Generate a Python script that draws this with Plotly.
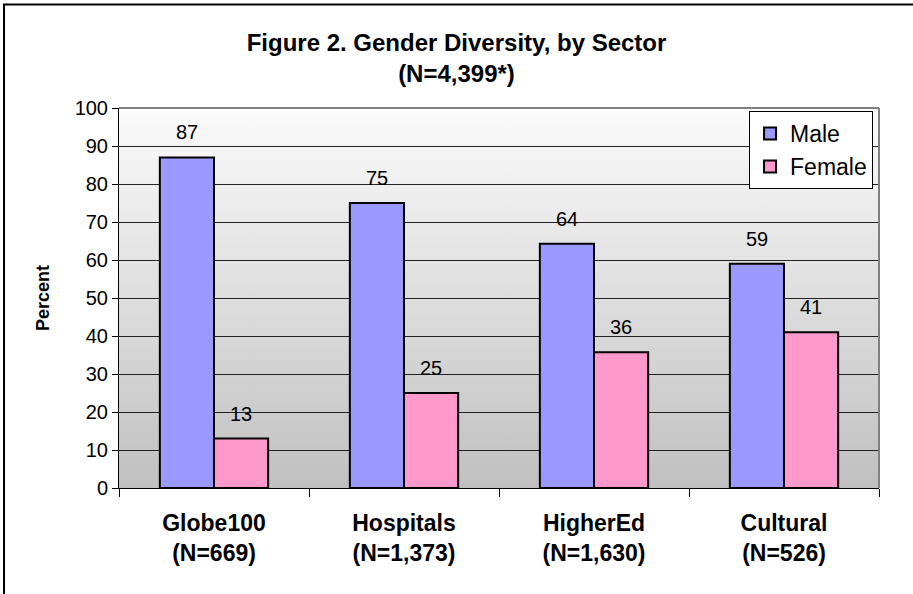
"""Figure 2: gender diversity by sector, grouped bars."""

import base64
import plotly.graph_objects as go

CATEGORIES = ["Globe100", "Hospitals", "HigherEd", "Cultural"]
SAMPLE_SIZES = ["(N=669)", "(N=1,373)", "(N=1,630)", "(N=526)"]
MALE = [87, 75, 64.3, 59]
FEMALE = [13, 25, 35.7, 41]
Y_TICKS = [0, 10, 20, 30, 40, 50, 60, 70, 80, 90, 100]

FONT = "Liberation Sans, Arial, sans-serif"

# vertical grey gradient behind the plot area (Excel style)
svg = (
    '<svg xmlns="http://www.w3.org/2000/svg" width="100" height="100" preserveAspectRatio="none">'
    '<defs><linearGradient id="g" x1="0" y1="0" x2="0" y2="1">'
    '<stop offset="0" stop-color="#fbfbfb"/><stop offset="1" stop-color="#c0c0c0"/>'
    '</linearGradient></defs><rect width="100" height="100" fill="url(#g)"/></svg>'
)
bg_uri = "data:image/svg+xml;base64," + base64.b64encode(svg.encode()).decode()

tick_text = [f"<b>{c}</b><br><b>{n}</b>" for c, n in zip(CATEGORIES, SAMPLE_SIZES)]

fig = go.Figure()

fig.add_trace(go.Bar(
    x=CATEGORIES, y=MALE, name="Male",
    marker=dict(color="#9999ff", line=dict(color="black", width=2)),
))
fig.add_trace(go.Bar(
    x=CATEGORIES, y=FEMALE, name="Female",
    marker=dict(color="#ff99cc", line=dict(color="black", width=2)),
))

# value labels above each bar (bars sit 27px left/right of category centre)
labels = []
for series, shift in ((MALE, -27), (FEMALE, 27)):
    for cat, val in zip(CATEGORIES, series):
        labels.append(dict(
            x=cat, y=val, xref="x", yref="y", text=f"{val:.0f}",
            showarrow=False, xshift=shift, yshift=12, yanchor="bottom",
            font=dict(size=20, color="black", family=FONT),
        ))

fig.update_layout(
    width=913, height=594,
    margin=dict(l=119, r=34, t=108, b=106),
    paper_bgcolor="white",
    plot_bgcolor="rgba(0,0,0,0)",
    font=dict(family=FONT, size=20, color="black"),
    barmode="group",
    bargap=0.43,
    bargroupgap=0,
    title=dict(
        text="<b>Figure 2. Gender Diversity, by Sector</b><br><b>(N=4,399*)</b>",
        x=0.5, xanchor="center", y=0.914, yanchor="middle",
        font=dict(size=24, family=FONT),
    ),
    xaxis=dict(
        tickmode="array", tickvals=CATEGORIES, ticktext=tick_text,
        tickson="boundaries", ticks="outside", ticklen=8, tickcolor="black",
        showline=True, linecolor="black", linewidth=1,
        tickfont=dict(size=23, family=FONT),
        ticklabelstandoff=14,
        showgrid=False,
    ),
    yaxis=dict(
        range=[0, 100], tickvals=Y_TICKS,
        ticks="outside", ticklen=6, tickcolor="black",
        showline=True, linecolor="black", linewidth=1,
        gridcolor="#222222", gridwidth=1,
        zeroline=False,
        tickfont=dict(size=20, family=FONT),
        title=dict(text="<b>Percent</b>", font=dict(size=18, family=FONT), standoff=20),
    ),
    legend=dict(
        x=0.829, y=0.992, xanchor="left", yanchor="top",
        bgcolor="white", bordercolor="black", borderwidth=1,
        font=dict(size=23, family=FONT),
        itemwidth=30,
        tracegroupgap=0,
    ),
    annotations=labels,
    images=[dict(
        source=bg_uri, xref="paper", yref="paper", x=0, y=1,
        sizex=1, sizey=1, sizing="stretch", layer="below",
    )],
    shapes=[
        # grey frame on top and right of plot area
        dict(type="line", xref="paper", yref="paper", x0=0, x1=1, y0=1, y1=1,
             line=dict(color="#808080", width=2)),
        dict(type="line", xref="paper", yref="paper", x0=1, x1=1, y0=0, y1=1,
             line=dict(color="#808080", width=2)),
        # outer chart border (clipped by the page on the right and bottom)
        dict(type="rect", xref="paper", yref="paper", x0=-0.1513, x1=1.2,
             y0=-0.4, y1=1.2724, line=dict(color="black", width=2)),
    ],
)

# drop the default body margin so the figure sits at the page origin
fig.write_html(
    "out.html",
    config={"displayModeBar": False},
    post_script="document.body.style.margin='0';",
)
